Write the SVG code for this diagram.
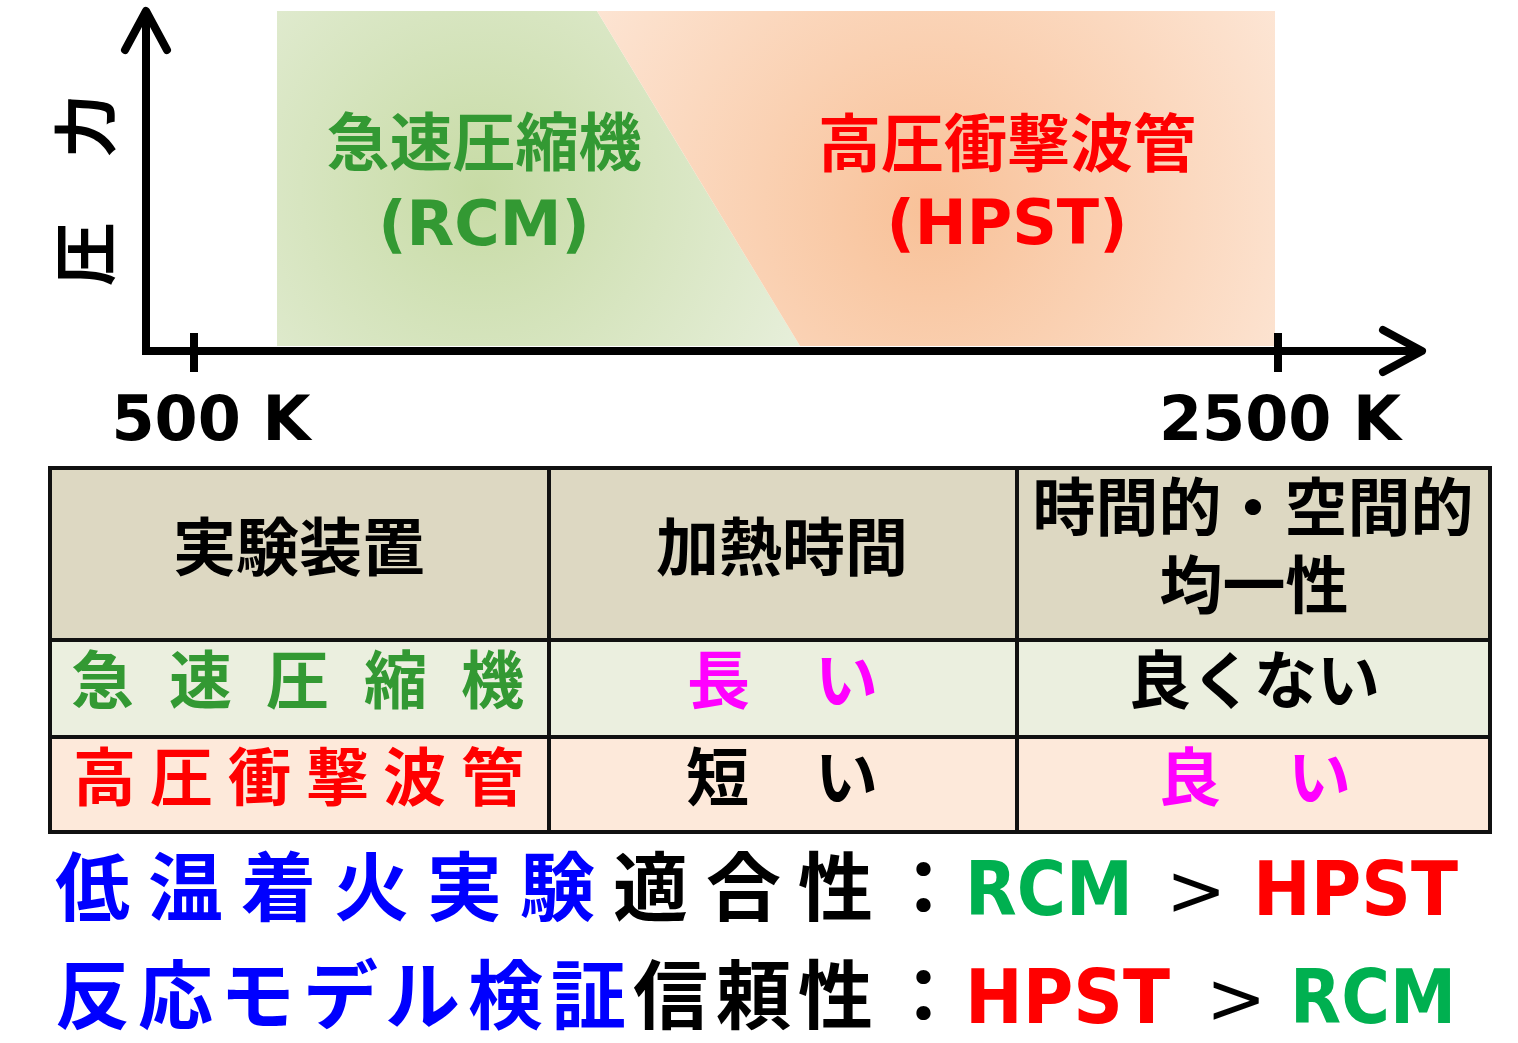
<svg xmlns="http://www.w3.org/2000/svg" width="1518" height="1043" viewBox="0 0 1518 1043">
<defs>
<radialGradient id="gGreen" gradientUnits="userSpaceOnUse" cx="480" cy="190" r="360">
<stop offset="0" stop-color="#c7dba5"/>
<stop offset="1" stop-color="#e7efdb"/>
</radialGradient>
<radialGradient id="gOrange" gradientUnits="userSpaceOnUse" cx="930" cy="210" r="430">
<stop offset="0" stop-color="#f8c198"/>
<stop offset="1" stop-color="#fde8d9"/>
</radialGradient>
<style>
.jp{font-family:"Noto Sans CJK JP","Noto Sans CJK SC",sans-serif;font-weight:bold;}
.lat{font-family:"DejaVu Sans",Verdana,sans-serif;font-weight:bold;}
.ax{fill:none;stroke:#000;stroke-width:8;}
.cell{stroke:none;}
.grid{fill:none;stroke:#111;stroke-width:4;}
.green{fill:#339933;}
.red{fill:#ff0000;}
.mag{fill:#ff00ff;}
.blue{fill:#0000ff;}
</style>
</defs>
<rect width="1518" height="1043" fill="#ffffff"/>

<g id="region-rcm">
<polygon points="277,11 597,11 800,346 277,346" fill="url(#gGreen)"/>
<text class="jp green" x="484" y="165" font-size="63" text-anchor="middle">急速圧縮機</text>
<text class="lat green" x="484" y="245" font-size="62" text-anchor="middle">(RCM)</text>
</g>

<g id="region-hpst">
<polygon points="597,11 1275,11 1275,346 800,346" fill="url(#gOrange)"/>
<text class="jp red" x="1007" y="166" font-size="63" text-anchor="middle">高圧衝撃波管</text>
<text class="lat red" x="1007" y="244" font-size="62" text-anchor="middle">(HPST)</text>
</g>

<g id="axes">
<path class="ax" d="M146,12 L146,351 L1420,351" stroke-linejoin="miter"/>
<polyline class="ax" points="125,50 146,11 167,50" stroke-linecap="round" stroke-linejoin="round"/>
<polyline class="ax" points="1383,330 1422,351 1383,372" stroke-linecap="round" stroke-linejoin="round"/>
<line class="ax" x1="194" y1="333" x2="194" y2="372"/>
<line class="ax" x1="1278" y1="333" x2="1278" y2="372"/>
<text class="jp" x="0" y="0" font-size="64" text-anchor="middle" dominant-baseline="central" transform="translate(81,190) rotate(-90)">圧　力</text>
<text class="lat" x="211" y="440" font-size="62" text-anchor="middle">500 K</text>
<text class="lat" x="1280" y="440" font-size="62" text-anchor="middle">2500 K</text>
</g>

<g id="table">
<rect class="cell" x="50" y="468" width="1440" height="172" fill="#ddd8c2"/>
<rect class="cell" x="50" y="640" width="1440" height="97" fill="#ebefdf"/>
<rect class="cell" x="50" y="737" width="1440" height="95" fill="#fde9da"/>
<rect class="grid" x="50" y="468" width="1440" height="364"/>
<line class="grid" x1="50" y1="640" x2="1490" y2="640"/>
<line class="grid" x1="50" y1="737" x2="1490" y2="737"/>
<line class="grid" x1="549" y1="468" x2="549" y2="832"/>
<line class="grid" x1="1017" y1="468" x2="1017" y2="832"/>

<text class="jp" x="299" y="570" font-size="63" text-anchor="middle">実験装置</text>
<text class="jp" x="782" y="570" font-size="63" text-anchor="middle">加熱時間</text>
<text class="jp" font-size="63" text-anchor="middle"><tspan x="1253" y="530">時間的・空間的</tspan><tspan x="1254" y="608">均一性</tspan></text>

<text class="jp green" x="71 169 266 364 461" y="703" font-size="63">急速圧縮機</text>
<text class="jp red" x="73 150 228 306 383 461" y="800" font-size="63">高圧衝撃波管</text>

<text class="jp mag" x="687 815" y="703" font-size="63">長い</text>
<text class="jp" x="686 815" y="800" font-size="63">短い</text>

<text class="jp" x="1254" y="703" font-size="63" text-anchor="middle">良くない</text>
<text class="jp mag" x="1158 1288" y="800" font-size="63">良い</text>
</g>

<g id="summary-1">
<text class="jp blue" x="55 148 241 334 427 520" y="915" font-size="75">低温着火実験</text>
<text class="jp" x="613 706 798 886" y="915" font-size="75">適合性：</text>
<text class="lat" x="965" y="915" font-size="74" fill="#00b050" textLength="168" lengthAdjust="spacingAndGlyphs">RCM</text>
<text x="1166" y="915" font-size="72" font-family="DejaVu Sans,sans-serif" fill="#000">&gt;</text>
<text class="lat red" x="1253" y="915" font-size="74" textLength="205" lengthAdjust="spacingAndGlyphs">HPST</text>
</g>

<g id="summary-2">
<text class="jp blue" x="55 138 220 303 385 468 551" y="1023" font-size="75">反応モデル検証</text>
<text class="jp" x="633 716 798 886" y="1023" font-size="75">信頼性：</text>
<text class="lat red" x="965" y="1023" font-size="74" textLength="205" lengthAdjust="spacingAndGlyphs">HPST</text>
<text x="1206" y="1023" font-size="72" font-family="DejaVu Sans,sans-serif" fill="#000">&gt;</text>
<text class="lat" x="1290" y="1023" font-size="74" fill="#00b050" textLength="166" lengthAdjust="spacingAndGlyphs">RCM</text>
</g>
</svg>
